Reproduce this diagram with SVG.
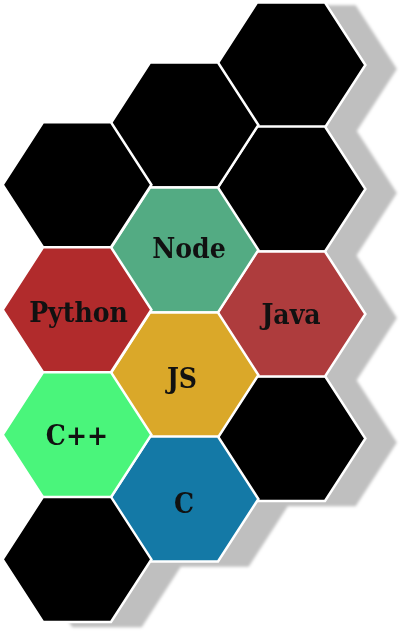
<svg xmlns="http://www.w3.org/2000/svg" xmlns:xlink="http://www.w3.org/1999/xlink" width="402" height="631" viewBox="0 0 402 631">
<style>
.hex{stroke:#ffffff;stroke-width:2.5;stroke-linejoin:miter}
.blk{fill:#000000}
.lbl{font-family:"DejaVu Serif","Liberation Serif",serif;font-size:28px;font-weight:bold;font-stretch:condensed;fill:#111111;text-anchor:middle}
</style>
<defs>
<polygon id="hx" points="-74.4,0 -34,-62.5 34,-62.5 74.4,0 34,62.5 -34,62.5"/>
<filter id="sh" filterUnits="userSpaceOnUse" x="-10" y="-10" width="430" height="660" color-interpolation-filters="sRGB">
<feGaussianBlur in="SourceAlpha" stdDeviation="1.5"/>
<feOffset dx="30" dy="4" result="b"/>
<feFlood flood-color="#bfbfbf"/>
<feComposite in2="b" operator="in"/>
<feMerge><feMergeNode/><feMergeNode in="SourceGraphic"/></feMerge>
</filter>
</defs>
<rect width="402" height="631" fill="#ffffff"/>
<g id="connectors"/>
<g filter="url(#sh)">
<g id="hex-c3r1"><use xlink:href="#hx" class="hex blk" transform="translate(291,65)"/></g>
<g id="hex-c3r2"><use xlink:href="#hx" class="hex blk" transform="translate(291,189)"/></g>
<g id="hex-c3r4"><use xlink:href="#hx" class="hex blk" transform="translate(291,438.5)"/></g>
<g id="java"><use xlink:href="#hx" class="hex" fill="#ae3c3d" transform="translate(291,314)"/><text class="lbl" x="291" y="324">Java</text></g>
<g id="hex-c2r1"><use xlink:href="#hx" class="hex blk" transform="translate(184,125)"/></g>
<g id="node"><use xlink:href="#hx" class="hex" fill="#53ab83" transform="translate(184,250)"/><text class="lbl" x="189" y="258.3">Node</text></g>
<g id="js"><use xlink:href="#hx" class="hex" fill="#daa829" transform="translate(184,375)"/><text class="lbl" x="182" y="388">JS</text></g>
<g id="c"><use xlink:href="#hx" class="hex" fill="#1479a6" transform="translate(184,499)"/><text class="lbl" x="184" y="513">C</text></g>
<g id="hex-c1r1"><use xlink:href="#hx" class="hex blk" transform="translate(77,184.7)"/></g>
<g id="python"><use xlink:href="#hx" class="hex" fill="#b12b2c" transform="translate(77,309.7)"/><text class="lbl" x="78.5" y="321.7">Python</text></g>
<g id="cpp"><use xlink:href="#hx" class="hex" fill="#4af57b" transform="translate(77,434.7)"/><text class="lbl" x="77" y="445">C++</text></g>
<g id="hex-c1r4"><use xlink:href="#hx" class="hex blk" transform="translate(77,559.4)"/></g>
</g>
</svg>
